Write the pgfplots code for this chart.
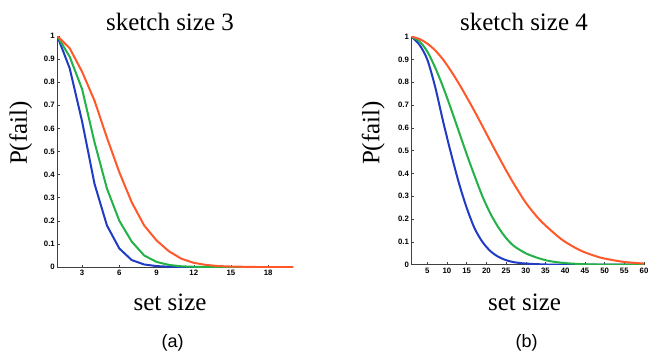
\documentclass[border=0pt]{standalone}
\usepackage{pgfplots}
\pgfplotsset{compat=1.18}
\usepackage{fontspec}
\setmainfont{Liberation Serif}
\setsansfont{Liberation Sans}
\definecolor{corange}{RGB}{255,88,42}
\definecolor{cgreen}{RGB}{34,178,72}
\definecolor{cblue}{RGB}{32,60,196}
\pgfplotsset{
  myax/.style={
    scale only axis,
    axis lines=left,
    axis line style={-, black!75, line width=0.7pt},
    tick align=inside,
    major tick length=2.5pt,
    tick style={black!75, line width=0.5pt},
    ymin=0, ymax=1,
    ytick={0,0.1,...,1},
    yticklabels={0,0.1,0.2,0.3,0.4,0.5,0.6,0.7,0.8,0.9,1},
    enlargelimits=false,
    /pgf/number format/assume math mode=true,
    ticklabel style={font=\fontsize{7.8}{8}\selectfont\bfseries\sffamily},
    yticklabel style={xshift=1pt},
    every axis plot/.append style={line width=2pt, line join=round},
  }
}
\begin{document}
\begin{tikzpicture}
\useasboundingbox (0pt,0pt) rectangle (648pt,360pt);
\fill[white] (0pt,0pt) rectangle (648pt,360pt);
% left plot
\begin{axis}[myax, at={(57.3pt,93pt)}, anchor=south west, width=235.7pt, height=231pt,
  xmin=1, xmax=20, xtick={3,6,9,12,15,18}]
\addplot[cblue] coordinates {(1,1) (2,0.86) (3,0.63) (4,0.36) (5,0.18) (6,0.08) (7,0.03) (8,0.011) (9,0.004) (10,0.001) (11,0) (12,0) (13,0) (14,0) (15,0) (16,0) (17,0) (18,0) (19,0) (20,0)};
\addplot[cgreen] coordinates {(1,1) (2,0.91) (3,0.77) (4,0.54) (5,0.34) (6,0.2) (7,0.11) (8,0.05) (9,0.022) (10,0.009) (11,0.003) (12,0.001) (13,0) (14,0) (15,0) (16,0) (17,0) (18,0) (19,0) (20,0)};
\addplot[corange] coordinates {(1,1) (2,0.947) (3,0.845) (4,0.72) (5,0.56) (6,0.41) (7,0.28) (8,0.18) (9,0.115) (10,0.068) (11,0.036) (12,0.018) (13,0.009) (14,0.004) (15,0.002) (16,0.001) (17,0) (18,0) (19,0) (20,0)};
\end{axis}
% right plot
\begin{axis}[myax, at={(411.5pt,95.3pt)}, anchor=south west, width=232.5pt, height=228pt,
  xmin=1, xmax=60, xtick={5,10,...,60}]
\addplot[cblue, smooth] coordinates {(1,1) (3,0.965) (5,0.9) (7,0.78) (9,0.63) (11,0.49) (13,0.36) (15,0.25) (17,0.16) (19,0.1) (21,0.06) (23,0.035) (25,0.02) (27,0.011) (30,0.005) (35,0.001) (40,0) (50,0) (60,0)};
\addplot[cgreen, smooth] coordinates {(1,1) (3,0.98) (5,0.935) (7,0.865) (9,0.78) (11,0.685) (13,0.585) (15,0.485) (17,0.39) (19,0.3) (21,0.225) (23,0.165) (25,0.117) (27,0.082) (30,0.05) (33,0.03) (36,0.016) (40,0.007) (45,0.002) (50,0.0005) (55,0) (60,0)};
\addplot[corange, smooth] coordinates {(1,1) (3,0.99) (5,0.97) (7,0.94) (9,0.9) (11,0.85) (13,0.795) (15,0.735) (17,0.673) (19,0.608) (21,0.542) (23,0.477) (25,0.414) (27,0.354) (30,0.272) (33,0.207) (35,0.172) (38,0.126) (40,0.1) (43,0.07) (45,0.054) (48,0.036) (50,0.027) (55,0.012) (60,0.005)};
\end{axis}
% titles and labels
\node[font=\fontsize{25}{28}\selectfont] at (170pt,338pt) {sketch size 3};
\node[font=\fontsize{25}{28}\selectfont] at (524pt,338pt) {sketch size 4};
\node[font=\fontsize{25}{28}\selectfont] at (170pt,58pt) {set size};
\node[font=\fontsize{25}{28}\selectfont] at (524.5pt,58pt) {set size};
\node[font=\fontsize{25}{28}\selectfont, rotate=90] at (20.7pt,227pt) {P(fail)};
\node[font=\fontsize{25}{28}\selectfont, rotate=90] at (373.3pt,227pt) {P(fail)};
\node[font=\fontsize{18}{20}\selectfont\sffamily] at (172.7pt,17pt) {(a)};
\node[font=\fontsize{18}{20}\selectfont\sffamily] at (526.7pt,17pt) {(b)};
\end{tikzpicture}
\end{document}
